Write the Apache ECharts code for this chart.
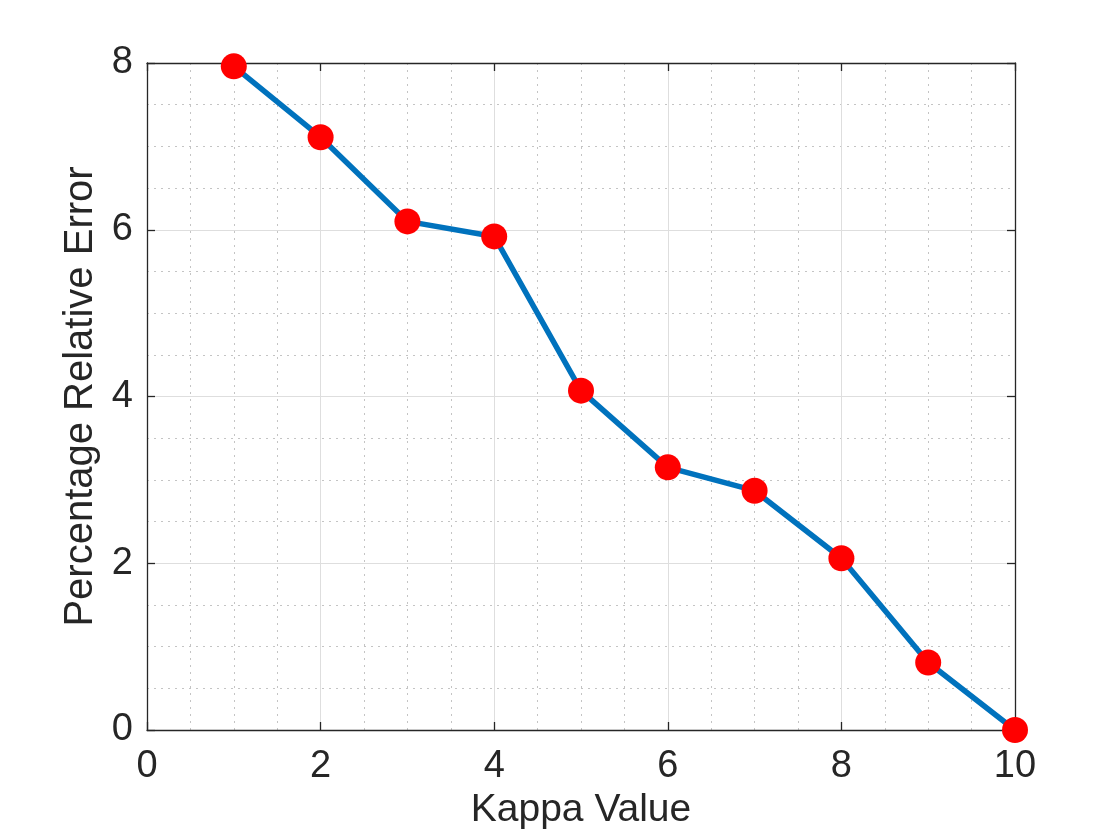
<!DOCTYPE html>
<html>
<head>
<meta charset="utf-8">
<script src="https://cdn.jsdelivr.net/npm/echarts@6/dist/echarts.min.js"></script>
<style>
html,body{margin:0;padding:0;background:#fff;}
#chart{width:1120px;height:840px;}
</style>
</head>
<body>
<div id="chart"></div>
<script>
const kappaValues = [1, 2, 3, 4, 5, 6, 7, 8, 9, 10];
const relativeError = [7.96, 7.11, 6.10, 5.92, 4.07, 3.15, 2.87, 2.06, 0.81, 0.00];
const xAxisTitle = 'Kappa Value';
const yAxisTitle = 'Percentage Relative Error';

const font = '"Liberation Sans", Arial, Helvetica, sans-serif';
const textColor = '#262626';
const axisColor = '#262626';

const chart = echarts.init(document.getElementById('chart'));

const baseAxis = {
  type: 'value',
  axisLine: { show: true, onZero: false, lineStyle: { color: axisColor, width: 1.3 } },
  axisTick: { show: true, inside: true, length: 8, lineStyle: { color: axisColor, width: 1.3 } },
  minorTick: { show: false, splitNumber: 4 },
};

chart.setOption({
  animation: false,
  backgroundColor: '#ffffff',
  grid: { left: 147, right: 105, top: 63, bottom: 110, containLabel: false },
  xAxis: [
    Object.assign({}, baseAxis, {
      position: 'bottom', min: 0, max: 10, interval: 2,
      name: xAxisTitle, nameLocation: 'middle', nameGap: 56,
      nameTextStyle: { fontFamily: font, fontSize: 39, color: textColor },
      axisLabel: { fontFamily: font, fontSize: 38, color: textColor, margin: 18 },
      splitLine: { show: true, lineStyle: { color: '#dedede', width: 1 } },
      minorSplitLine: { show: true, lineStyle: { color: '#c4c4c4', width: 1, type: [2, 5] } },
    }),
    Object.assign({}, baseAxis, {
      position: 'top', min: 0, max: 10, interval: 2,
      axisLabel: { show: false }, splitLine: { show: false },
    }),
  ],
  yAxis: [
    Object.assign({}, baseAxis, {
      position: 'left', min: 0, max: 8, interval: 2,
      name: yAxisTitle, nameLocation: 'middle', nameGap: 43,
      nameTextStyle: { fontFamily: font, fontSize: 40, color: textColor },
      axisLabel: { fontFamily: font, fontSize: 38, color: textColor, margin: 14 },
      splitLine: { show: true, lineStyle: { color: '#dedede', width: 1 } },
      minorSplitLine: { show: true, lineStyle: { color: '#c4c4c4', width: 1, type: [2, 5] } },
    }),
    Object.assign({}, baseAxis, {
      position: 'right', min: 0, max: 8, interval: 2,
      axisLabel: { show: false }, splitLine: { show: false },
    }),
  ],
  series: [{
    type: 'line',
    xAxisIndex: 0,
    yAxisIndex: 0,
    data: kappaValues.map((k, i) => [k, relativeError[i]]),
    lineStyle: { color: '#0072BD', width: 5.5 },
    itemStyle: { color: '#FF0000' },
    symbol: 'circle',
    symbolSize: 26,
    showAllSymbol: true,
    clip: false,
    z: 5,
  }],
});
</script>
</body>
</html>
